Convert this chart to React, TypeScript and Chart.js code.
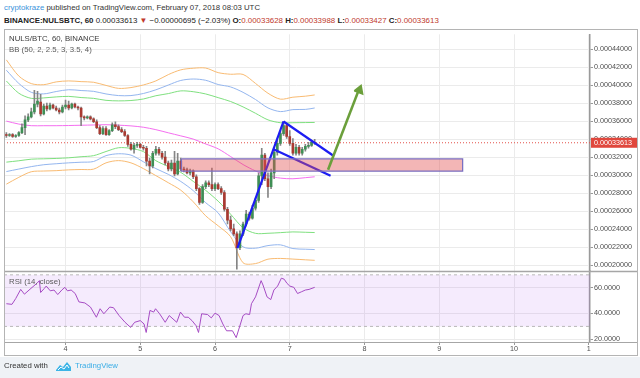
import React, { useEffect, useRef } from "react";
import { Chart, registerables } from "chart.js";

Chart.register(...registerables);

const FONT = '"Liberation Sans", Arial, Helvetica, sans-serif';

// Hourly candles. x = hours since 2018-02-03 00:00 UTC, prices in µBTC (1e-6 BTC)
const candleHours = [
  5, 6, 7, 8, 9, 10, 11, 12, 13, 14, 15, 16, 17, 18, 19, 20, 21, 22, 23, 24,
  25, 26, 27, 28, 29, 30, 31, 32, 33, 34, 35, 36, 37, 38, 39, 40, 41, 42, 43, 44,
  45, 46, 47, 48, 49, 50, 51, 52, 53, 54, 55, 56, 57, 58, 59, 60, 61, 62, 63, 64,
  65, 66, 67, 68, 69, 70, 71, 72, 73, 74, 75, 76, 77, 78, 79, 80, 81, 82, 83, 84,
  85, 86, 87, 88, 89, 90, 91, 92, 93, 94, 95, 96, 97, 98, 99, 100, 101, 102, 103, 104,
];
const openVals = [
  345.2, 344.2, 345.2, 343.1, 344.2, 347.4, 352.9, 361.6, 364.9, 370.4,
  379.1, 381.3, 368.2, 376.9, 373.7, 378.0, 374.8, 372.6, 370.4, 375.9,
  378.0, 374.8, 379.1, 375.9, 374.8, 364.9, 363.8, 364.9, 362.7, 359.5,
  352.9, 346.3, 351.8, 345.2, 349.6, 356.2, 354.0, 350.7, 348.5, 344.2,
  334.3, 328.9, 333.2, 334.3, 331.0, 330.0, 315.7, 310.3, 324.5, 328.9,
  324.5, 320.1, 313.6, 307.0, 313.6, 301.5, 315.7, 307.0, 305.9, 302.6,
  304.8, 298.3, 285.1, 269.8, 287.3, 291.7, 289.5, 285.1, 289.5, 285.1,
  280.8, 262.2, 250.2, 240.3, 234.9, 219.6, 234.9, 245.8, 256.7, 252.4,
  263.3, 272.0, 299.4, 322.3, 296.1, 287.3, 302.6, 325.6, 335.4, 346.3,
  355.1, 343.1, 335.4, 324.5, 331.0, 324.5, 328.9, 332.1, 333.2, 336.28,
];
const highVals = [
  347.4, 346.3, 346.3, 345.2, 348.5, 357.3, 366.0, 368.2, 374.8, 394.4,
  393.3, 390.1, 379.1, 380.2, 380.2, 379.1, 376.9, 374.8, 378.0, 383.5,
  382.4, 380.2, 380.2, 376.9, 375.9, 366.0, 366.0, 366.0, 363.8, 361.6,
  355.1, 354.0, 354.0, 350.7, 358.4, 359.5, 356.2, 352.9, 350.7, 345.2,
  336.5, 335.4, 336.5, 335.4, 333.2, 332.1, 319.0, 326.7, 332.1, 331.0,
  326.7, 326.7, 315.7, 316.8, 326.7, 324.5, 319.0, 309.2, 308.1, 307.0,
  305.9, 300.4, 286.2, 289.5, 293.9, 293.9, 308.1, 291.7, 291.7, 287.3,
  283.0, 264.4, 254.5, 245.8, 237.1, 238.2, 248.0, 261.1, 258.9, 266.6,
  274.2, 302.6, 330.0, 324.5, 302.6, 307.0, 327.8, 339.8, 349.6, 359.5,
  357.3, 349.6, 340.9, 334.3, 333.2, 331.0, 334.3, 336.5, 338.7, 339.88,
];
const lowVals = [
  342.0, 343.1, 342.0, 342.0, 343.1, 346.3, 345.2, 359.5, 363.8, 368.2,
  375.9, 366.0, 367.1, 371.5, 372.6, 373.7, 371.5, 368.2, 369.3, 373.7,
  372.6, 373.7, 374.8, 372.6, 355.1, 361.6, 362.7, 361.6, 358.4, 351.8,
  345.2, 345.2, 344.2, 344.2, 348.5, 351.8, 349.6, 347.4, 343.1, 332.1,
  327.8, 324.5, 331.0, 330.0, 327.8, 310.3, 301.5, 308.1, 322.3, 322.3,
  317.9, 311.4, 304.8, 304.8, 299.4, 300.4, 304.8, 303.7, 301.5, 300.4,
  296.1, 283.0, 267.7, 268.8, 285.1, 287.3, 283.0, 283.0, 284.1, 278.6,
  260.0, 245.8, 238.2, 232.7, 195.5, 217.4, 232.7, 243.6, 250.2, 251.3,
  261.1, 269.8, 289.5, 293.9, 275.3, 285.1, 296.1, 322.3, 333.2, 344.2,
  340.9, 333.2, 322.3, 322.3, 322.3, 322.3, 326.7, 330.0, 332.1, 334.27,
];
const closeVals = [
  344.2, 345.2, 343.1, 344.2, 347.4, 352.9, 361.6, 364.9, 370.4, 379.1,
  382.4, 368.2, 376.9, 373.7, 378.0, 374.8, 372.6, 370.4, 375.9, 378.0,
  374.8, 379.1, 375.9, 374.8, 364.9, 363.8, 364.9, 362.7, 359.5, 352.9,
  346.3, 351.8, 345.2, 349.6, 356.2, 354.0, 350.7, 348.5, 344.2, 334.3,
  328.9, 333.2, 334.3, 331.0, 330.0, 315.7, 310.3, 324.5, 328.9, 324.5,
  320.1, 313.6, 307.0, 313.6, 301.5, 315.7, 307.0, 305.9, 302.6, 304.8,
  298.3, 285.1, 269.8, 287.3, 291.7, 289.5, 285.1, 289.5, 285.1, 280.8,
  262.2, 250.2, 240.3, 234.9, 219.6, 234.9, 245.8, 256.7, 252.4, 263.3,
  272.0, 299.4, 322.3, 296.1, 287.3, 302.6, 325.6, 335.4, 346.3, 355.1,
  343.1, 335.4, 324.5, 331.0, 324.5, 328.9, 332.1, 333.2, 336.5, 336.13,
];

// Bollinger band lines, sampled every few hours (µBTC)
const bandHours = [5, 9, 13, 17, 21, 25, 29, 33, 37, 41, 45, 49, 53, 57, 61, 65, 69, 73, 77, 81, 85, 89, 93, 97, 101, 104];
const bbOrangeUpper = [428.3, 410.3, 401.9, 400.7, 403.8, 404.9, 404.1, 403.4, 399.9, 396.6, 397.5, 400.4, 404.9, 411.9, 417.2, 419.0, 419.2, 414.1, 412.3, 412.1, 402.1, 391.2, 384.6, 386.8, 387.9, 389.3];
const bbBlueUpper = [416.8, 402.1, 392.2, 390.5, 393.1, 395.1, 394.2, 393.3, 390.4, 388.6, 388.6, 390.9, 395.0, 400.3, 405.4, 407.0, 405.6, 400.9, 398.2, 392.2, 384.2, 374.9, 370.8, 373.0, 373.2, 374.8];
const bbGreenUpper = [404.8, 391.2, 385.5, 386.0, 387.1, 387.7, 386.4, 385.5, 383.3, 382.7, 383.1, 384.8, 388.4, 390.8, 393.8, 392.9, 390.4, 386.3, 382.0, 376.0, 368.9, 361.6, 358.4, 358.4, 358.6, 358.7];
const bbBasis = [360.2, 356.9, 355.1, 355.1, 355.1, 355.3, 355.6, 355.9, 356.2, 355.7, 354.9, 353.4, 350.7, 347.2, 343.8, 340.2, 334.8, 329.4, 320.8, 311.9, 304.8, 299.6, 296.8, 296.1, 297.3, 298.3];
const bbGreenLower = [314.6, 316.1, 317.9, 318.3, 318.7, 319.4, 320.6, 321.8, 326.4, 330.6, 329.9, 326.3, 316.2, 309.7, 303.2, 293.2, 283.2, 271.2, 256.7, 241.6, 235.4, 235.5, 236.2, 237.0, 236.6, 236.3];
const bbBlueLower = [304.1, 306.9, 309.6, 311.7, 312.8, 313.8, 314.5, 315.3, 321.8, 323.9, 322.4, 315.0, 307.4, 301.0, 293.1, 282.9, 269.5, 258.2, 237.3, 220.4, 218.9, 221.8, 222.6, 218.5, 217.8, 217.4];
const bbOrangeLower = [290.1, 297.7, 303.9, 304.7, 305.1, 306.0, 306.4, 306.8, 313.8, 316.3, 313.8, 307.4, 299.6, 291.7, 283.4, 270.5, 254.9, 243.8, 231.7, 202.7, 201.8, 206.7, 207.5, 206.8, 206.0, 205.4];

// RSI (14, close)
const rsiHours = [5, 6.8, 8.0, 9.6, 10.8, 12.9, 14.8, 15.6, 16.0, 17.2, 17.8, 19.1, 20.3, 21.5, 22.8, 23.8, 24.6, 25.8, 27.1, 28.3, 30.2, 32.0, 33.9, 35.1, 36.3, 38.2, 39.4, 41.2, 43.1, 44.9, 46.2, 48.0, 49.2, 49.9, 51.1, 52.3, 52.9, 54.2, 56.0, 57.3, 58.5, 59.7, 60.9, 62.2, 63.4, 64.6, 65.9, 66.7, 67.7, 69.6, 70.8, 72.0, 73.3, 74.5, 75.7, 77.6, 78.8, 81.0, 81.9, 83.1, 83.7, 85.0, 86.8, 87.4, 88.7, 89.9, 90.9, 92.1, 93.3, 94.2, 95.1, 96.0, 97.3, 98.5, 99.7, 101.0, 102.2, 104.0];
const rsiValues = [47.6, 47.1, 51.6, 58.7, 55.0, 59.5, 63.4, 65.5, 56.3, 59.5, 61.3, 57.6, 58.2, 54.7, 58.2, 60.3, 57.6, 58.2, 55.5, 49.0, 48.2, 45.0, 37.1, 43.7, 39.8, 45.0, 44.5, 38.4, 33.2, 29.2, 33.2, 34.5, 31.9, 25.3, 42.4, 41.1, 43.7, 39.8, 33.2, 38.4, 35.8, 33.2, 41.1, 37.1, 37.1, 34.5, 30.6, 25.3, 39.8, 39.2, 36.6, 40.3, 38.4, 31.9, 26.6, 26.6, 21.3, 38.4, 39.8, 39.2, 47.6, 52.9, 65.5, 62.1, 52.9, 50.8, 58.2, 61.3, 67.4, 66.6, 63.4, 61.3, 60.3, 55.5, 56.8, 58.2, 58.7, 60.3];
const rsiBandLevels = [70, 30];

// Drawings (hour, µBTC)
const zoneHours = [61.2, 151.5];
const zonePrices = [318.3, 304.5];
const poleHours = [79.2, 94.0];
const polePrices = [219.0, 359.8];
const flagUpperHours = [94.0, 109.9];
const flagUpperPrices = [359.8, 322.0];
const flagLowerHours = [90.8, 109.1];
const flagLowerPrices = [328.9, 299.4];
const arrowHours = [108.3, 118.1];
const arrowPrices = [306.2, 394.4];
const arrowHeadHours = [116.7, 118.9, 119.4, 116.7];
const arrowHeadPrices = [393.8, 399.9, 390.2, 393.8];

const priceTicks = [200, 220, 240, 260, 280, 300, 320, 340, 360, 380, 400, 420, 440];
const rsiTicks = [20, 40, 60];
const dayTicks = [24, 48, 72, 96, 120, 144, 168, 192];
const dayLabels = ["4", "5", "6", "7", "8", "9", "10", "1"];

const lastIdx = closeVals.length - 1;
const lastPrice = closeVals[lastIdx];
const fmtPrice = (v: number) => (v / 1e6).toFixed(8);

const X_MIN = 4.24;
const X_MAX = 192.4;

export default function App() {
  const ref = useRef<HTMLCanvasElement>(null);

  useEffect(() => {
    const canvas = ref.current;
    if (!canvas) return;
    const xy = (xs: number[], ys: number[]) => xs.map((x, i) => ({ x, y: ys[i] }));
    const upColor = "#3f8e55";
    const downColor = "#a93a31";
    const bodyColors = candleHours.map((_, i) => (closeVals[i] >= openVals[i] ? upColor : downColor));

    const line = (data: any[], color: string, extra: any = {}) => ({
      type: "line" as const,
      data,
      borderColor: color,
      backgroundColor: color,
      borderWidth: 1,
      pointRadius: 0,
      fill: false,
      tension: 0.3,
      xAxisID: "x",
      yAxisID: "y",
      ...extra,
    });

    const zonePoly = xy(
      [zoneHours[0], zoneHours[1], zoneHours[1], zoneHours[0], zoneHours[0]],
      [zonePrices[0], zonePrices[0], zonePrices[1], zonePrices[1], zonePrices[0]]
    );

    const framePlugin = {
      id: "tvFrame",
      beforeDraw(chart: any) {
        const { ctx, width, height } = chart;
        ctx.save();
        ctx.fillStyle = "#ffffff";
        ctx.fillRect(0, 0, width, height);
        ctx.restore();
      },
      afterDraw(chart: any) {
        const { ctx, width, height, chartArea, scales } = chart;
        const ys = scales.y;
        ctx.save();
        ctx.strokeStyle = "#a6a6a6";
        ctx.lineWidth = 1.5;
        ctx.beginPath();
        ctx.moveTo(0, Math.round(ys.bottom) + 0.5);
        ctx.lineTo(width, Math.round(ys.bottom) + 0.5);
        ctx.stroke();
        ctx.lineWidth = 1;
        ctx.beginPath();
        ctx.moveTo(0, Math.round(chartArea.bottom) + 0.5);
        ctx.lineTo(width, Math.round(chartArea.bottom) + 0.5);
        ctx.stroke();
        ctx.strokeStyle = "#b4b4b4";
        ctx.strokeRect(0.5, 0.5, width - 1, height - 1);
        // last price label
        const py = ys.getPixelForValue(lastPrice);
        ctx.fillStyle = "#e0473d";
        ctx.fillRect(ys.left + 1, py - 5, ys.width - 2, 10);
        ctx.fillStyle = "#ffffff";
        ctx.font = `7.2px ${FONT}`;
        ctx.textBaseline = "middle";
        ctx.textAlign = "left";
        ctx.fillText(fmtPrice(lastPrice), ys.left + 4, py + 0.5);
        ctx.restore();
      },
    };

    const tickFont = { family: FONT, size: 7.2 };

    const chart = new Chart(canvas, {
      type: "bar",
      data: {
        datasets: [
          // RSI band
          line(xy([X_MIN, X_MAX], [rsiBandLevels[0], rsiBandLevels[0]]), "#b9b9b9", {
            yAxisID: "rsi", borderDash: [3, 3], tension: 0, order: 20,
          }),
          line(xy([X_MIN, X_MAX], [rsiBandLevels[1], rsiBandLevels[1]]), "#b9b9b9", {
            yAxisID: "rsi", borderDash: [3, 3], tension: 0, order: 20,
            fill: "-1", backgroundColor: "rgba(170, 90, 240, 0.12)",
          }),
          line(xy(rsiHours, rsiValues), "#a64cc4", { yAxisID: "rsi", tension: 0, order: 5 }),
          // Bollinger bands
          line(xy(bandHours, bbOrangeUpper), "#f9bb72", { order: 15 }),
          line(xy(bandHours, bbBlueUpper), "#94b6ef", { order: 15 }),
          line(xy(bandHours, bbGreenUpper), "#7fe07f", { order: 15 }),
          line(xy(bandHours, bbBasis), "#f56ef0", { order: 15 }),
          line(xy(bandHours, bbGreenLower), "#7fe07f", { order: 15 }),
          line(xy(bandHours, bbBlueLower), "#94b6ef", { order: 15 }),
          line(xy(bandHours, bbOrangeLower), "#f9bb72", { order: 15 }),
          // last price line
          line(xy([X_MIN, X_MAX], [lastPrice, lastPrice]), "#e3504a", { borderDash: [1, 2], tension: 0, order: 12 }),
          // candles: wicks then bodies
          {
            type: "bar" as const,
            data: candleHours.map((h, i) => ({ x: h, y: [lowVals[i], highVals[i]] })),
            backgroundColor: "#858585",
            barThickness: 1,
            grouped: false,
            borderWidth: 0,
            xAxisID: "x",
            yAxisID: "y",
            order: 9,
          },
          {
            type: "bar" as const,
            data: candleHours.map((h, i) => ({ x: h, y: [openVals[i], closeVals[i]] })),
            backgroundColor: bodyColors,
            barThickness: 2,
            grouped: false,
            borderWidth: 0,
            xAxisID: "x",
            yAxisID: "y",
            order: 8,
          },
          // flag drawing
          line(xy(poleHours, polePrices), "#1d1df2", { borderWidth: 2.2, tension: 0, order: 3 }),
          line(xy(flagUpperHours, flagUpperPrices), "#1d1df2", { borderWidth: 2.2, tension: 0, order: 3 }),
          line(xy(flagLowerHours, flagLowerPrices), "#1d1df2", { borderWidth: 2.2, tension: 0, order: 3 }),
          // support zone
          line(zonePoly, "#7a70c2", {
            borderWidth: 1.3, tension: 0, order: 2, fill: "shape",
            backgroundColor: "rgba(226, 82, 82, 0.42)",
          }),
          // arrow
          line(xy(arrowHours, arrowPrices), "#6b9f3b", { borderWidth: 2.6, tension: 0, order: 1 }),
          line(xy(arrowHeadHours, arrowHeadPrices), "#6b9f3b", {
            borderWidth: 1.5, tension: 0, order: 1, fill: "shape", backgroundColor: "#6b9f3b",
          }),
        ] as any,
      },
      options: {
        responsive: false,
        animation: false,
        devicePixelRatio: 1,
        events: [],
        layout: { padding: 0 },
        plugins: { legend: { display: false }, tooltip: { enabled: false } },
        scales: {
          x: {
            type: "linear",
            min: X_MIN,
            max: X_MAX,
            offset: false,
            afterBuildTicks: (s: any) => {
              s.ticks = dayTicks.map((v) => ({ value: v }));
            },
            afterFit: (s: any) => {
              s.height = 14;
            },
            ticks: {
              autoSkip: false,
              maxRotation: 0,
              padding: 0,
              color: "#4f4f4f",
              font: tickFont,
              callback: (_v: any, i: number) => dayLabels[i],
            },
            grid: { color: "#ebebeb", offset: false, drawTicks: true, tickLength: 3, tickColor: "#999" },
            border: { display: false },
          },
          y: {
            type: "linear",
            position: "right",
            stack: "panes",
            stackWeight: 241,
            min: 193.3,
            max: 456.7,
            afterBuildTicks: (s: any) => {
              s.ticks = priceTicks.map((v) => ({ value: v }));
            },
            afterFit: (s: any) => {
              s.width = 48;
            },
            ticks: {
              autoSkip: false,
              padding: 1,
              color: "#4f4f4f",
              font: tickFont,
              callback: (v: any) => fmtPrice(Number(v)),
            },
            grid: { color: "#ebebeb", drawTicks: true, tickLength: 3, tickColor: "#999" },
            border: { color: "#9a9a9a", width: 1.5 },
          },
          rsi: {
            type: "linear",
            position: "right",
            stack: "panes",
            stackWeight: 72,
            min: 17.9,
            max: 72.8,
            afterBuildTicks: (s: any) => {
              s.ticks = rsiTicks.map((v) => ({ value: v }));
            },
            afterFit: (s: any) => {
              s.width = 48;
            },
            ticks: {
              autoSkip: false,
              padding: 1,
              color: "#4f4f4f",
              font: tickFont,
              callback: (v: any) => Number(v).toFixed(4),
            },
            grid: { color: "#ebebeb", drawTicks: true, tickLength: 3, tickColor: "#999" },
            border: { color: "#9a9a9a", width: 1.5 },
          },
        },
      } as any,
      plugins: [framePlugin],
    });
    return () => chart.destroy();
  }, []);

  const red = "#c0392b";
  return (
    <div
      style={{
        position: "absolute",
        left: 0,
        top: 0,
        width: 640,
        height: 378,
        background: "#ffffff",
        fontFamily: FONT,
        overflow: "hidden",
      }}
    >
      <div style={{ position: "absolute", left: 4, top: 2, fontSize: 7.8, lineHeight: "12px", whiteSpace: "nowrap", color: "#333" }}>
        <span style={{ color: "#3c93db" }}>cryptokraze</span> published on TradingView.com, February 07, 2018 08:03 UTC
      </div>
      <div style={{ position: "absolute", left: 4, top: 14.5, fontSize: 7.9, lineHeight: "12px", whiteSpace: "nowrap", color: "#222" }}>
        <span style={{ fontWeight: 700 }}>BINANCE:NULSBTC, 60</span> {fmtPrice(lastPrice)} <span style={{ color: red }}>▼</span> −0.00000695 (−2.03%){" "}
        <span style={{ fontWeight: 700 }}>O:</span><span style={{ color: red }}>{fmtPrice(openVals[lastIdx])}</span>{" "}
        <span style={{ fontWeight: 700 }}>H:</span><span style={{ color: red }}>{fmtPrice(highVals[lastIdx])}</span>{" "}
        <span style={{ fontWeight: 700 }}>L:</span><span style={{ color: red }}>{fmtPrice(lowVals[lastIdx])}</span>{" "}
        <span style={{ fontWeight: 700 }}>C:</span><span style={{ color: red }}>{fmtPrice(closeVals[lastIdx])}</span>
      </div>
      <canvas
        ref={ref}
        width={634}
        height={327}
        style={{ position: "absolute", left: 4, top: 29, width: 634, height: 327 }}
      />
      <div style={{ position: "absolute", left: 9, top: 33, fontSize: 7.8, lineHeight: "12px", whiteSpace: "nowrap", color: "#3a3a3a" }}>
        NULS/BTC, 60, BINANCE
      </div>
      <div style={{ position: "absolute", left: 9, top: 43.5, fontSize: 7.8, lineHeight: "12px", whiteSpace: "nowrap", color: "#5a5a5a" }}>
        BB (50, 2, 2.5, 3, 3.5, 4)
      </div>
      <div style={{ position: "absolute", left: 9, top: 276, fontSize: 7.8, lineHeight: "12px", whiteSpace: "nowrap", color: "#5a5a5a" }}>
        RSI (14, close)
      </div>
      <div style={{ position: "absolute", left: 0, top: 357, width: 640, height: 21, background: "#eff2f6" }} />
      <div style={{ position: "absolute", left: 4, top: 360, fontSize: 7.8, lineHeight: "12px", whiteSpace: "nowrap", color: "#333" }}>
        Created with
      </div>
      <svg style={{ position: "absolute", left: 55, top: 361 }} width={17} height={11} viewBox="0 0 17 11">
        <path d="M1 9 L5 4 L8 6 L12 1 L16 6 L16 10 L1 10 Z" fill="#3cb4e6" />
        <path d="M3 9 L6 6 L9 8 L12 4 L14 7" fill="none" stroke="#ffffff" strokeWidth={1} />
      </svg>
      <div style={{ position: "absolute", left: 75, top: 360, fontSize: 7.8, lineHeight: "12px", whiteSpace: "nowrap", color: "#39ade6" }}>
        TradingView
      </div>
    </div>
  );
}
